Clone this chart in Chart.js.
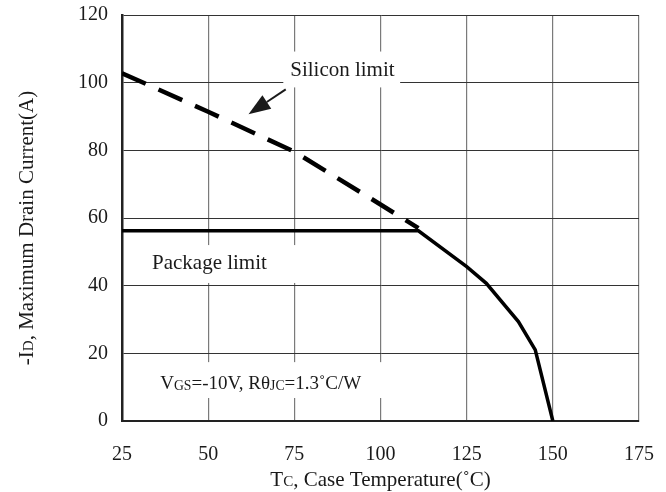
<!DOCTYPE html>
<html>
<head>
<meta charset="utf-8">
<script src="https://cdn.jsdelivr.net/npm/chart.js@4.4.1/dist/chart.umd.min.js"></script>
<style>
  html, body { margin: 0; padding: 0; background: #fff; }
  #wrap { width: 666px; height: 492px; }
</style>
</head>
<body>
<div id="wrap"><canvas id="c" width="666" height="492"></canvas></div>
<script>
// Case temperature (°C) and maximum drain current (A)
const siliconTemp = [25, 50, 75, 100, 111];
const siliconCurrent = [102.8, 91.4, 79.6, 64.0, 57.0];
const packageTemp = [25, 111, 125, 130.7, 140, 144.9, 150];
const packageCurrent = [56.2, 56.2, 45.6, 40.7, 29.4, 21.0, 0];
const tempTicks = [25, 50, 75, 100, 125, 150, 175];
const currentTicks = [0, 20, 40, 60, 80, 100, 120];

const FONT = '"Liberation Serif", "Times New Roman", serif';
const INK = '#1a1a1a';

function toPoints(xs, ys) { return xs.map((x, i) => ({ x: x, y: ys[i] })); }

// draws a list of [text, scale, dy] runs starting at (x, y), left aligned, middle baseline
function drawRuns(ctx, runs, x, y, size) {
  let cx = x;
  for (const [t, s, dy] of runs) {
    ctx.font = (size * s).toFixed(1) + 'px ' + FONT;
    ctx.fillText(t, cx, y + dy);
    cx += ctx.measureText(t).width;
  }
  return cx - x;
}
function runsWidth(ctx, runs, size) {
  let w = 0;
  for (const [t, s] of runs) {
    ctx.font = (size * s).toFixed(1) + 'px ' + FONT;
    w += ctx.measureText(t).width;
  }
  return w;
}

const notes = {
  id: 'notes',
  beforeDatasetsDraw(chart) {
    const ctx = chart.ctx, xs = chart.scales.x, ys = chart.scales.y;
    const px = v => xs.getPixelForValue(v), py = v => ys.getPixelForValue(v);
    ctx.save();
    // white label boxes over the grid
    ctx.fillStyle = '#fff';
    const boxes = [
      [71.8, 109.2, 105.7, 98.6],
      [31.8, 52.0, 90.4, 40.8],
      [31.8, 17.4, 104.3, 6.8]
    ];
    for (const [x0, y0, x1, y1] of boxes) {
      ctx.fillRect(px(x0), py(y0), px(x1) - px(x0), py(y1) - py(y0));
    }
    ctx.restore();
  },
  afterDatasetsDraw(chart) {
    const ctx = chart.ctx, xs = chart.scales.x, ys = chart.scales.y;
    const px = v => xs.getPixelForValue(v), py = v => ys.getPixelForValue(v);
    const size = 21;
    ctx.save();
    ctx.fillStyle = INK;
    ctx.textBaseline = 'middle';
    ctx.textAlign = 'left';
    drawRuns(ctx, [['Silicon limit', 1, 0]], px(73.8), py(103.7), size);
    drawRuns(ctx, [['Package limit', 1, 0]], px(33.7), py(46.7), size);
    drawRuns(ctx, [['V', 1, 0], ['GS', 0.72, 2], ['=-10V, R\u03B8', 1, 0], ['JC', 0.72, 2], ['=1.3\u02DAC/W', 1, 0]],
      px(36.1), py(10.9), 19);

    // arrow pointing at the silicon limit curve
    const tx = px(72.5), ty = py(98), hx = px(61.7), hy = py(90.7);
    const ang = Math.atan2(hy - ty, hx - tx);
    const hl = 22, hw = 8;
    const bx = hx - hl * Math.cos(ang), by = hy - hl * Math.sin(ang);
    ctx.strokeStyle = INK;
    ctx.lineWidth = 2;
    ctx.beginPath(); ctx.moveTo(tx, ty); ctx.lineTo(bx, by); ctx.stroke();
    ctx.beginPath();
    ctx.moveTo(hx, hy);
    ctx.lineTo(bx + hw * Math.sin(ang), by - hw * Math.cos(ang));
    ctx.lineTo(bx - hw * Math.sin(ang), by + hw * Math.cos(ang));
    ctx.closePath(); ctx.fill();

    // axis titles
    const ca = chart.chartArea;
    ctx.textBaseline = 'middle';
    const xt = [['T', 1, 0], ['C', 0.72, 2], [', Case Temperature(\u02DAC)', 1, 0]];
    const xw = runsWidth(ctx, xt, size);
    drawRuns(ctx, xt, (ca.left + ca.right) / 2 - xw / 2, 480, size);

    const yt = [['-I', 1, 0], ['D', 0.72, 2], [', Maximum Drain Current(A)', 1, 0]];
    const yw = runsWidth(ctx, yt, size);
    ctx.translate(27, 228);
    ctx.rotate(-Math.PI / 2);
    drawRuns(ctx, yt, -yw / 2, 0, size);
    ctx.restore();
  }
};

new Chart(document.getElementById('c'), {
  type: 'line',
  data: {
    datasets: [
      {
        label: 'Silicon limit',
        data: toPoints(siliconTemp, siliconCurrent),
        borderColor: '#000',
        borderWidth: 4.5,
        borderDash: [26, 14],
        borderCapStyle: 'butt',
        pointRadius: 0,
        tension: 0
      },
      {
        label: 'Package limit',
        data: toPoints(packageTemp, packageCurrent),
        borderColor: '#000',
        borderWidth: 3.5,
        pointRadius: 0,
        tension: 0
      }
    ]
  },
  options: {
    responsive: false,
    animation: false,
    events: [],
    layout: { padding: { top: 15, right: 27, left: 0, bottom: 0 } },
    plugins: { legend: { display: false }, tooltip: { enabled: false }, title: { display: false } },
    scales: {
      x: {
        type: 'linear',
        min: 25, max: 175,
        afterBuildTicks: s => { s.ticks = tempTicks.map(v => ({ value: v })); },
        afterFit: s => { s.height = 71; s.paddingLeft = 0; s.paddingRight = 0; },
        ticks: { font: { family: FONT, size: 20 }, color: INK, padding: 22, maxRotation: 0 },
        grid: { color: '#7a7a7a', lineWidth: 1.2, drawTicks: false },
        border: { display: true, color: '#222', width: 2 }
      },
      y: {
        min: 0, max: 120,
        afterBuildTicks: s => { s.ticks = currentTicks.map(v => ({ value: v })); },
        afterFit: s => { s.width = 122; s.paddingTop = 0; s.paddingBottom = 0; },
        ticks: { font: { family: FONT, size: 20 }, color: INK, padding: 14 },
        grid: { color: '#333', lineWidth: 1, drawTicks: false },
        border: { display: true, color: '#222', width: 2.5 }
      }
    }
  },
  plugins: [notes]
});
</script>
</body>
</html>
